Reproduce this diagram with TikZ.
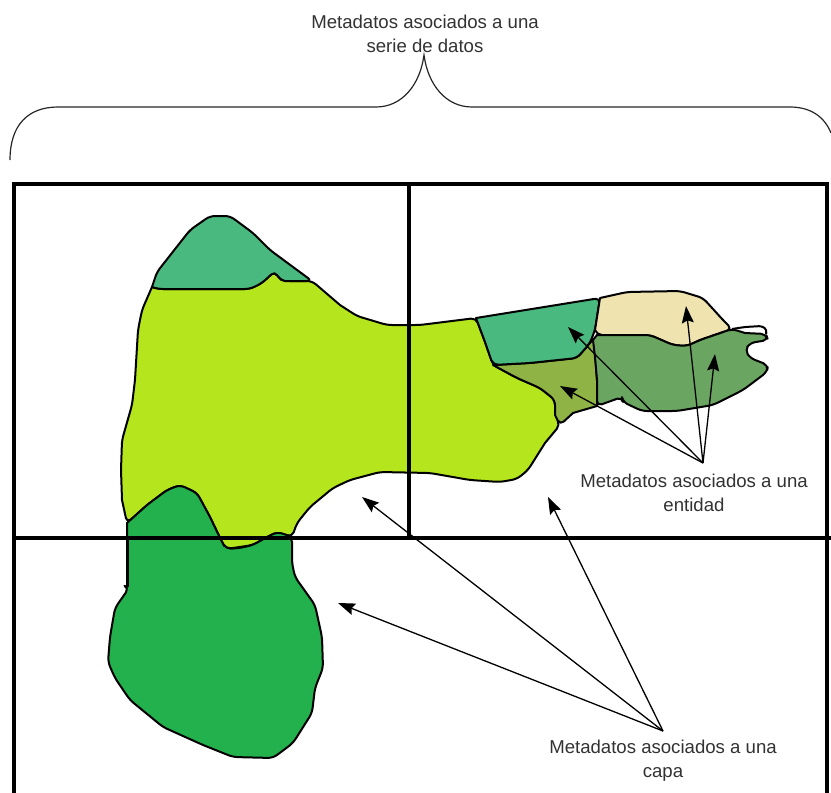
\documentclass[tikz,border=0pt]{standalone}
\usepackage{fontspec}
\setmainfont{Liberation Sans}
\usetikzlibrary{arrows.meta, positioning}
\definecolor{mapyellow}{RGB}{181,230,29}
\definecolor{mapgreen}{RGB}{34,177,76}
\definecolor{mapteal}{RGB}{74,185,127}
\definecolor{mapbeige}{RGB}{239,228,176}
\definecolor{mapmoss}{RGB}{106,165,97}
\definecolor{mapolive}{RGB}{143,180,69}
\definecolor{labelgray}{RGB}{50,50,50}

\begin{document}
\begin{tikzpicture}[
  x=1pt, y=-1pt,
  font=\fontsize{18.6}{24}\selectfont,
  lab/.style={align=center, text=labelgray, inner sep=0pt},
  reg/.style={draw=black, line width=2pt, line join=round, rounded corners=5pt},
  sh/.style={sharp corners},
  rc/.style={rounded corners=5pt},
  grid/.style={draw=black, line width=3.2pt},
  ar/.style={-{Stealth[length=17pt, width=12pt, inset=2.5pt]}, line width=1.3pt}]
\useasboundingbox (0,0) rectangle (831,793);
% brace
\draw[line width=1.2pt, black!85] (10,160) .. controls (10,125) and (28,107) .. (58,107) -- (376,107)
  .. controls (402,107) and (420,85) .. (424,55)
  .. controls (428,85) and (446,107) .. (472,107) -- (790,107)
  .. controls (812,107) and (825,118) .. (831,133);
% layers
\draw[reg, fill=mapyellow] (152,287)--(158,289)--(250,289)--(262,283)--(275,271)--(279,279)--(285,281)--(312,281)[sh]
  --(340,305)[rc]--(357,316)--(387,325)--(420,325)--(460,320)--(476,318)[sh]--(485,342)[rc]--(493,365)--(517,378)--(540,388)
  --(555,400)--(555,415)--(560,425)[sh]--(545,443)[rc]--(528,470)--(517,479)--(500,482)--(470,480)--(430,473)--(380,472)
  --(350,480)--(333,488)--(310,507)--(297,523)--(292,537)--(277,532)--(267,537)--(253,545)--(226,549)--(222,542)--(210,517)
  --(197,493)--(180,485)--(167,490)--(147,505)--(127,523)[sh]--(122,500)[rc]--(121,470)--(122,440)--(132,405)--(135,380)
  --(138,330)--(142,310)[sh]--cycle;
\draw[reg, fill=mapteal] (152,287)[rc]--(157,272)--(190,230)--(210,216)--(230,216)--(253,233)--(270,250)--(312,281)[sh]
  --(285,281)[rc]--(279,279)--(275,271)--(262,283)--(250,289)--(158,289)[sh]--cycle;
\draw[reg, fill=mapgreen] (127,523)[rc]--(147,505)--(167,490)--(180,485)--(197,493)--(210,517)--(222,542)--(226,549)
  --(240,548)--(253,545)--(267,537)--(277,532)--(287,535)--(292,537)--(292,563)--(295,577)--(315,605)--(322,637)
  --(323,668)--(315,688)--(312,713)--(293,743)--(273,758)--(233,757)--(203,745)--(163,727)--(130,700)--(115,678)
  --(108,662)--(110,637)--(115,608)--(129,588)[sh]--(127,587)--cycle;
\draw[reg, line width=3pt] (127,537)--(127,587);
\draw[reg, fill=mapolive] (493,365)[rc]--(530,363)--(577,358)--(590,343)--(594,338)[sh]--(597,380)--(597,406)--(573,413)[rc]
  --(560,425)[sh]--(555,415)[rc]--(555,400)--(540,388)--(517,378)[sh]--cycle;
\draw[reg, fill=mapteal] (476,318)--(600,298)--(595,330)[rc]--(590,343)--(577,358)--(530,363)--(493,365)[sh]--(485,342)--cycle;
\draw[reg, fill=mapbeige] (600,298)[rc]--(627,292)--(680,291)--(703,298)--(723,320)--(732,329)[sh]--(700,340)[rc]--(687,346)
  --(673,345)--(650,335)--(597,335)[sh]--(595,330)--cycle;
\draw[reg, fill=mapmoss] (597,335)[rc]--(650,335)--(673,345)--(687,346)--(700,340)--(732,329)[sh]--(745,333)[rc]--(766,334)
  --(768,340)--(750,343)--(745,350)--(750,358)--(768,365)--(767,372)--(743,390)--(713,405)--(677,411)--(642,411)
  --(623,402)--(622,397)--(597,406)[sh]--(597,380)--(595,357)--(593,340)--cycle;
\draw[reg, rounded corners=3pt] (732,329)--(745,327)--(762,326)--(767,330)--(766,334);
% grid of the series
\draw[grid] (14,793)--(14,184)--(827,184)--(827,793);
\draw[grid] (409,184)--(409,537);
\draw[grid] (14,538)--(831,538);
% labels
\node[lab] (serie) at (425,34) {Metadatos asociados a una\\serie de datos};
\node[lab] (entidad) at (694,493) {Metadatos asociados a una\\entidad};
\node[lab] (capa) at (663,761) {Metadatos asociados a una\\capa};
% arrows
\coordinate (ent) at (703,463);
\coordinate (cp) at (663,731);
\coordinate (e1) at (686,306);
\coordinate (e2) at (715,354);
\coordinate (e3) at (568,327);
\coordinate (e4) at (560,386);
\coordinate (c1) at (338,603);
\coordinate (c2) at (362,497);
\coordinate (c3) at (548,497);
\draw[ar](ent)--(e1);\draw[ar](ent)--(e2);\draw[ar](ent)--(e3);\draw[ar](ent)--(e4);
\draw[ar](cp)--(c1);\draw[ar](cp)--(c2);\draw[ar](cp)--(c3);
\end{tikzpicture}
\end{document}
